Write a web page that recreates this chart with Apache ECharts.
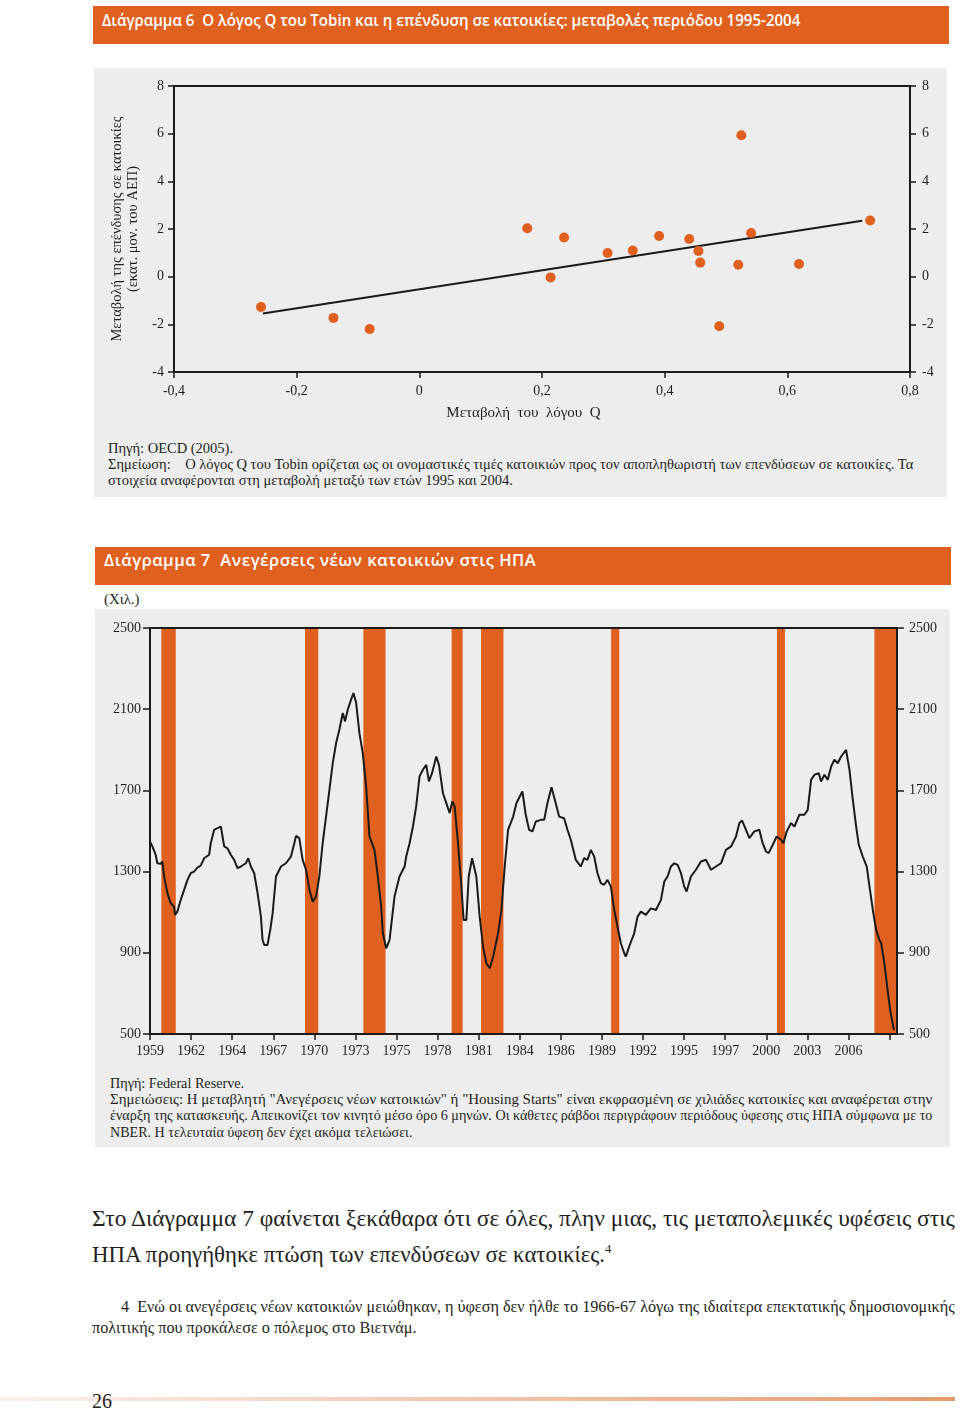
<!DOCTYPE html>
<html><head><meta charset="utf-8">
<script src="https://cdn.jsdelivr.net/npm/echarts@6/dist/echarts.min.js"></script>
<style>
html,body{margin:0;padding:0;background:#fff;}
body{width:960px;height:1411px;position:relative;overflow:hidden;}
.banner{position:absolute;background:#DF601F;}
.bt{position:absolute;color:#fff;font-family:'Open Sans',sans-serif;font-weight:600;font-size:16.5px;line-height:20px;white-space:nowrap;}
.panel{position:absolute;background:#EDEDED;}
.t{position:absolute;white-space:nowrap;font-family:'Liberation Serif','DejaVu Serif Condensed','DejaVu Serif',serif;color:#231F20;}
.n{font-size:14.5px;line-height:16px;}
.chart{position:absolute;}
sup{font-size:0.55em;vertical-align:0.7em;line-height:0;}
</style></head><body>

<div class="banner" style="left:93px;top:5.5px;width:856px;height:38.5px;"></div>
<div class="bt" style="left:102px;top:10.3px;" data-w="698" data-mode="sx">Διάγραμμα 6&nbsp; Ο λόγος Q του Tobin και η επένδυση σε κατοικίες: μεταβολές περιόδου 1995-2004</div>

<div class="panel" style="left:94px;top:68px;width:853px;height:429px;"></div>
<div id="c1" class="chart" style="left:94px;top:68px;width:853px;height:362px;"></div>
<div class="t n" style="left:108px;top:440px;" data-w="125" data-mode="sx">Πηγή: OECD (2005).</div>
<div class="t n" style="left:108px;top:456px;" data-w="805" data-mode="sx">Σημείωση:&nbsp;&nbsp;&nbsp; Ο λόγος Q του Tobin ορίζεται ως οι ονομαστικές τιμές κατοικιών προς τον αποπληθωριστή των επενδύσεων σε κατοικίες. Τα</div>
<div class="t n" style="left:108px;top:472px;" data-w="405" data-mode="sx">στοιχεία αναφέρονται στη μεταβολή μεταξύ των ετών 1995 και 2004.</div>

<div class="banner" style="left:95px;top:547px;width:855.5px;height:37.5px;"></div>
<div class="bt" style="left:104px;top:550.4px;" data-w="432" data-mode="ls">Διάγραμμα 7&nbsp; Ανεγέρσεις νέων κατοικιών στις ΗΠΑ</div>
<div class="t" style="left:104px;top:591.7px;font-size:14px;line-height:16px;" data-w="36" data-mode="sx">(Χιλ.)</div>

<div class="panel" style="left:95px;top:609px;width:855px;height:538px;"></div>
<div id="c2" class="chart" style="left:95px;top:609px;width:855px;height:460px;"></div>
<div class="t n" style="left:110px;top:1074.6px;" data-w="134" data-mode="sx">Πηγή: Federal Reserve.</div>
<div class="t n" style="left:110px;top:1090.9px;" data-w="822" data-mode="sx">Σημειώσεις: Η μεταβλητή "Ανεγέρσεις νέων κατοικιών" ή "Housing Starts" είναι εκφρασμένη σε χιλιάδες κατοικίες και αναφέρεται στην</div>
<div class="t n" style="left:110px;top:1107.2px;" data-w="822" data-mode="sx">έναρξη της κατασκευής. Απεικονίζει τον κινητό μέσο όρο 6 μηνών. Οι κάθετες ράβδοι περιγράφουν περιόδους ύφεσης στις ΗΠΑ σύμφωνα με το</div>
<div class="t n" style="left:110px;top:1123.5px;" data-w="302" data-mode="sx">NBER. Η τελευταία ύφεση δεν έχει ακόμα τελειώσει.</div>

<div class="t" style="left:92px;top:1204.6px;font-size:24px;line-height:26px;" data-w="863" data-mode="sx">Στο Διάγραμμα 7 φαίνεται ξεκάθαρα ότι σε όλες, πλην μιας, τις μεταπολεμικές υφέσεις στις</div>
<div class="t" style="left:92px;top:1240.6px;font-size:24px;line-height:26px;" data-w="519" data-mode="sx">ΗΠΑ προηγήθηκε πτώση των επενδύσεων σε κατοικίες.<sup>4</sup></div>

<div class="t" style="left:121px;top:1297.5px;font-size:16px;line-height:18px;" data-w="834" data-mode="sx">4&nbsp; Ενώ οι ανεγέρσεις νέων κατοικιών μειώθηκαν, η ύφεση δεν ήλθε το 1966-67 λόγω της ιδιαίτερα επεκτατικής δημοσιονομικής</div>
<div class="t" style="left:92px;top:1318.5px;font-size:16px;line-height:18px;" data-w="324" data-mode="sx">πολιτικής που προκάλεσε ο πόλεμος στο Βιετνάμ.</div>

<div style="position:absolute;left:0;top:1397px;width:955px;height:4px;background:linear-gradient(to right, rgba(245,215,200,0.35), #E79A6E);"></div>
<div class="t" style="left:92px;top:1388.6px;font-size:22px;line-height:24px;" data-w="20" data-mode="sx">26</div>

<script>
// ---------- Διάγραμμα 6 data ----------
const tobinQChange     = [-0.258, -0.140, -0.081, 0.176, 0.214, 0.236, 0.307, 0.348, 0.391, 0.440, 0.455, 0.458, 0.489, 0.520, 0.525, 0.541, 0.619, 0.735];
const housingInvChange = [-1.27, -1.73, -2.20, 2.03, -0.03, 1.64, 0.99, 1.10, 1.71, 1.58, 1.08, 0.59, -2.08, 0.50, 5.93, 1.83, 0.53, 2.36];
const trendLineX = [-0.255, 0.722];
const trendLineY = [-1.55, 2.35];

// ---------- Διάγραμμα 7 data (months since Jan 1959, thousands of starts) ----------
const housingMonth = [0, 1.9, 4.6, 5.9, 8.6, 9.9, 11.3, 14.0, 16.6, 19.3, 20.1, 22.0, 24.7, 27.4, 30.1, 32.7, 35.4, 38.1, 40.8, 43.5, 47.5, 48.8, 51.5, 54.2, 56.9, 59.6, 62.2, 64.9, 67.6, 70.3, 73.0, 77.0, 78.9, 81.0, 83.7, 86.4, 89.1, 90.4, 91.8, 94.4, 96.6, 98.5, 101.2, 105.2, 109.2, 113.2, 115.9, 117.3, 119.9, 122.6, 125.3, 128.0, 130.7, 133.4, 136.0, 138.7, 141.4, 144.1, 146.8, 149.5, 152.1, 154.8, 156.7, 158.8, 161.5, 163.4, 165.6, 168.2, 170.9, 173.6, 176.3, 180.3, 183.0, 185.7, 187.0, 189.7, 192.4, 196.4, 200.4, 204.5, 205.8, 208.5, 211.2, 213.8, 216.5, 219.2, 221.9, 224.0, 226.5, 228.6, 229.9, 232.1, 235.3, 238.0, 240.7, 242.8, 244.7, 247.4, 250.1, 251.9, 254.1, 256.0, 258.7, 262.1, 264.8, 267.5, 270.2, 272.9, 275.6, 279.6, 282.3, 284.9, 287.6, 291.7, 294.3, 297.0,
  299.1, 301.8, 304.5, 307.2, 309.9, 313.9, 316.6, 319.2, 322.5, 325.9, 328.6, 332.6, 335.3, 338.0, 342.0, 346.0, 348.7, 351.4, 354.1, 356.8, 359.4, 362.1, 364.8, 367.5, 370.2, 372.9, 375.5, 378.2, 380.9, 382.2, 384.9, 388.9, 391.6, 394.3, 398.3, 402.3, 406.4, 410.4, 413.1, 415.7, 418.4, 421.1, 423.8, 426.5, 429.1, 431.0, 434.5, 438.5, 442.5, 446.6, 450.6, 454.6, 458.6, 462.6, 466.7, 470.7, 473.4, 475.5, 478.7, 481.4, 485.4, 489.4, 492.1, 494.8, 496.9, 500.2, 503.4, 506.9, 508.7, 511.4, 514.9, 517.6, 521.6, 525.6, 528.3, 531.0, 533.7, 537.2, 539.0, 541.7, 544.4, 547.1, 549.7, 552.4, 555.1, 559.1, 561.8, 564.5, 567.2, 569.3, 572.5, 575.7, 577.9, 580.6, 583.2, 585.9, 587.3, 589.9, 592.1, 594.5, 597.5];
const housingStarts = [1448, 1424, 1382, 1341, 1338, 1350, 1276, 1194, 1144, 1128, 1087, 1103, 1161, 1210, 1259, 1292, 1300, 1320, 1330, 1366, 1383, 1440, 1506, 1514, 1522, 1424, 1415, 1383, 1358, 1317, 1325, 1341, 1366, 1325, 1292, 1194, 1078, 963, 939, 939, 1013, 1095, 1276, 1325, 1341, 1374, 1440, 1476, 1465, 1358, 1309, 1210, 1152, 1177, 1276, 1440, 1571, 1703, 1834, 1933, 1999, 2081, 2040, 2097, 2147, 2180, 2130, 1982, 1884, 1719, 1473, 1407, 1276, 1128, 996, 922, 963, 1177, 1276, 1325, 1374, 1440, 1522, 1621, 1769, 1802, 1826, 1744, 1785, 1834, 1867, 1826, 1686, 1637, 1588, 1646, 1621, 1440, 1226, 1062, 1062, 1276, 1366, 1276, 1078, 931, 848, 824, 881, 996, 1111, 1325, 1506, 1571, 1637, 1670,
  1695, 1580, 1506, 1498, 1547, 1555, 1555, 1637, 1716, 1637, 1571, 1563, 1506, 1457, 1358, 1325, 1366, 1358, 1407, 1374, 1292, 1243, 1235, 1259, 1226, 1111, 1029, 947, 898, 881, 931, 996, 1078, 1103, 1087, 1119, 1111, 1161, 1251, 1276, 1325, 1341, 1333, 1292, 1226, 1202, 1276, 1309, 1350, 1358, 1309, 1325, 1341, 1407, 1424, 1473, 1539, 1552, 1506, 1465, 1498, 1506, 1440, 1399, 1391, 1432, 1473, 1457, 1440, 1498, 1539, 1522, 1580, 1580, 1604, 1752, 1777, 1785, 1744, 1777, 1752, 1818, 1851, 1834, 1867, 1900, 1802, 1654, 1522, 1432, 1374, 1325, 1226, 1111, 1013, 963, 947, 848, 733, 618, 519];
const recessionStart = [9.1, 124.5, 171.4, 242.3, 265.9, 370.4, 503.6, 581.9];
const recessionEnd   = [20.7, 135.2, 189.2, 251.1, 283.9, 376.9, 510.0, 600];
const xTickLabels = ['1959','1962','1964','1967','1970','1973','1975','1978','1981','1984','1986','1989','1992','1995','1997','2000','2003','2006',''];
const yTickValues2 = [500, 900, 1300, 1700, 2100, 2500];

const ORANGE = '#DF601F', INK = '#1a1a1a', TXT = '#231F20';
const SERIF = "'Liberation Serif', 'DejaVu Serif Condensed', 'DejaVu Serif', serif";

function axisBase(extra) {
  return Object.assign({
    type: 'value', z: 5,
    axisLine: { show: true, onZero: false, lineStyle: { color: INK, width: 2 } },
    axisTick: { show: true, inside: false, length: 6, lineStyle: { color: INK, width: 1.5 } },
    splitLine: { show: false },
    axisLabel: { fontFamily: SERIF, fontSize: 14, color: TXT }
  }, extra);
}
function commaFmt(v) { return Math.abs(v) < 1e-9 ? '0' : v.toFixed(1).replace('.', ','); }
function plainFmt(v) { return String(Math.round(v)); }

// ---------- Chart 1 ----------
const c1 = echarts.init(document.getElementById('c1'));
c1.setOption({
  animation: false,
  grid: { left: 80, top: 18, width: 736, height: 286, show: true, z: 5, borderColor: INK, borderWidth: 2, backgroundColor: 'transparent' },
  xAxis: axisBase({
    min: -0.4, max: 0.8, interval: 0.2,
    axisLabel: { fontFamily: SERIF, fontSize: 14, color: TXT, margin: 12, formatter: commaFmt },
    name: 'Μεταβολή  του  λόγου  Q', nameLocation: 'middle', nameGap: 34,
    nameTextStyle: { fontFamily: SERIF, fontSize: 15, color: TXT, padding: [0, 37, 0, 0] }
  }),
  yAxis: [
    axisBase({ min: -4, max: 8, interval: 2, position: 'left',
      axisLabel: { fontFamily: SERIF, fontSize: 14, color: TXT, margin: 10, formatter: plainFmt },
      name: 'Μεταβολή της επένδυσης σε κατοικίες\n(εκατ. μον. του ΑΕΠ)', nameLocation: 'middle', nameGap: 33,
      nameTextStyle: { fontFamily: SERIF, fontSize: 14.5, color: TXT, lineHeight: 16 } }),
    axisBase({ min: -4, max: 8, interval: 2, position: 'right',
      axisLabel: { fontFamily: SERIF, fontSize: 14, color: TXT, margin: 12, formatter: plainFmt } })
  ],
  series: [
    { type: 'line', data: trendLineX.map((x, i) => [x, trendLineY[i]]), symbol: 'none',
      lineStyle: { color: INK, width: 2 }, z: 3, silent: true },
    { type: 'scatter', data: tobinQChange.map((x, i) => [x, housingInvChange[i]]), symbolSize: 10,
      itemStyle: { color: ORANGE, opacity: 1 }, z: 4 }
  ]
});

// ---------- Chart 2 ----------
const xTickMonths = xTickLabels.map((_, i) => i * 33);
const c2 = echarts.init(document.getElementById('c2'));
c2.setOption({
  animation: false,
  grid: { left: 55, top: 19, width: 747, height: 406, show: true, z: 5, borderColor: INK, borderWidth: 2, backgroundColor: 'transparent' },
  xAxis: axisBase({
    min: 0, max: 600,
    axisTick: { show: true, length: 6, customValues: xTickMonths, lineStyle: { color: INK, width: 1.5 } },
    axisLabel: { fontFamily: SERIF, fontSize: 14, color: TXT, margin: 10, customValues: xTickMonths,
      formatter: v => xTickLabels[Math.round(v / 33)] || '' }
  }),
  yAxis: [
    axisBase({ min: 500, max: 2500, position: 'left',
      axisTick: { show: true, length: 7, customValues: yTickValues2, lineStyle: { color: INK, width: 1.5 } },
      axisLabel: { fontFamily: SERIF, fontSize: 14, color: TXT, margin: 9, customValues: yTickValues2, formatter: plainFmt } }),
    axisBase({ min: 500, max: 2500, position: 'right',
      axisTick: { show: true, length: 7, customValues: yTickValues2, lineStyle: { color: INK, width: 1.5 } },
      axisLabel: { fontFamily: SERIF, fontSize: 14, color: TXT, margin: 12, customValues: yTickValues2, formatter: plainFmt } })
  ],
  series: [{
    type: 'line', data: housingMonth.map((m, i) => [m, housingStarts[i]]),
    showSymbol: false, symbol: 'none', z: 3,
    lineStyle: { color: INK, width: 2 },
    markArea: { silent: true, z: 1, itemStyle: { color: ORANGE, opacity: 1 },
      data: recessionStart.map((s, i) => [{ xAxis: s }, { xAxis: recessionEnd[i] }]) }
  }]
});

// ---------- text fitting ----------
function fitAll() {
  document.querySelectorAll('[data-w]').forEach(el => {
    const w = +el.dataset.w, mode = el.dataset.mode || 'sx';
    el.style.transform = 'none'; el.style.letterSpacing = ''; el.style.wordSpacing = '';
    el.style.display = 'inline-block';
    const nat = el.offsetWidth;
    if (!nat) return;
    if (mode === 'sx') { el.style.transformOrigin = '0 50%'; el.style.transform = 'scaleX(' + (w / nat) + ')'; }
    else if (mode === 'ws') { const n = (el.textContent.match(/[ \u00a0]/g) || []).length; el.style.wordSpacing = ((w - nat) / n) + 'px'; }
    else if (mode === 'ls') { const n = el.textContent.length - 1; el.style.letterSpacing = ((w - nat) / n) + 'px'; }
  });
}
fitAll();
if (document.fonts && document.fonts.ready) document.fonts.ready.then(fitAll);
</script>
</body></html>
